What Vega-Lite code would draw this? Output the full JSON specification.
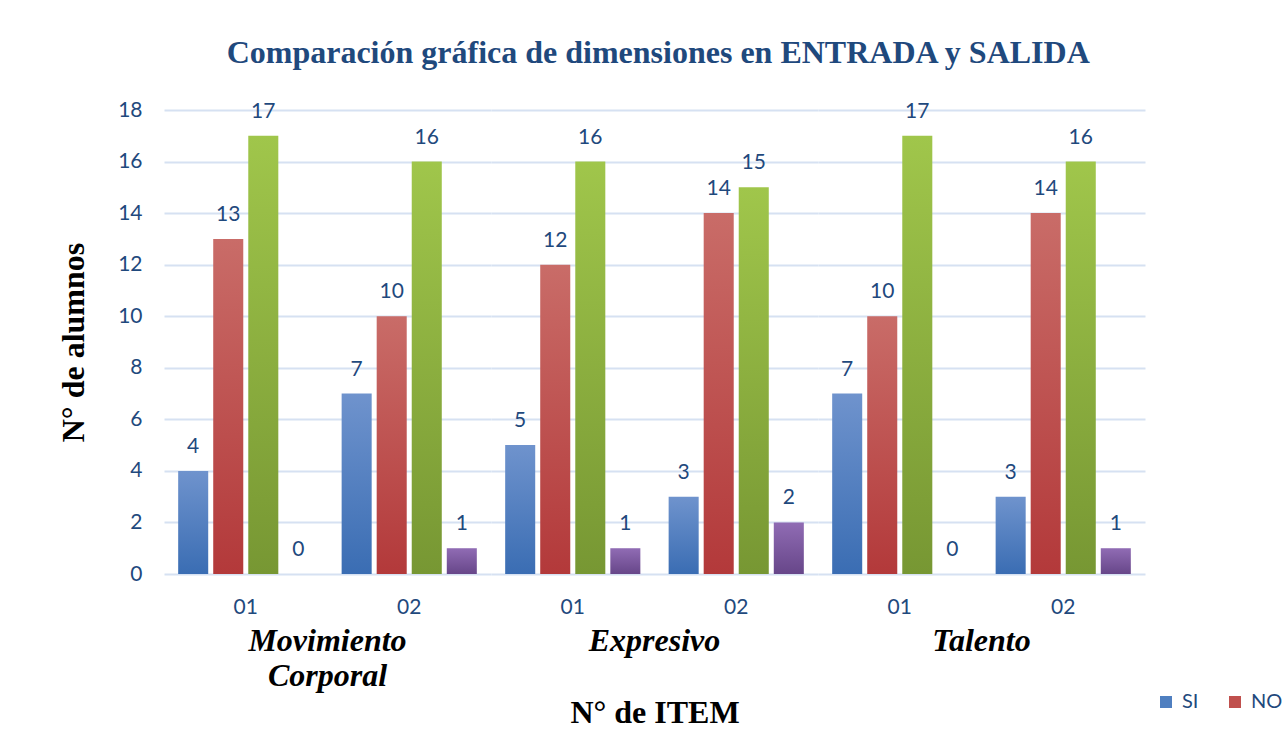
{
  "$schema": "https://vega.github.io/schema/vega-lite/v6.json",
  "padding": {"left": 57, "top": 37, "right": 5, "bottom": 5},
  "background": "white",
  "title": {"text": "Comparación gráfica de dimensiones en ENTRADA y SALIDA", "font": "Liberation Serif", "fontSize": 32, "fontWeight": "bold", "color": "#1F497D", "anchor": "start", "dx": 169, "offset": 29},
  "data": {"values": [
    {"dim": "Movimiento Corporal", "item": "01", "series": "SI", "value": 4},
    {"dim": "Movimiento Corporal", "item": "01", "series": "NO", "value": 13},
    {"dim": "Movimiento Corporal", "item": "01", "series": "SI salida", "value": 17},
    {"dim": "Movimiento Corporal", "item": "01", "series": "NO salida", "value": 0},
    {"dim": "Movimiento Corporal", "item": "02", "series": "SI", "value": 7},
    {"dim": "Movimiento Corporal", "item": "02", "series": "NO", "value": 10},
    {"dim": "Movimiento Corporal", "item": "02", "series": "SI salida", "value": 16},
    {"dim": "Movimiento Corporal", "item": "02", "series": "NO salida", "value": 1},
    {"dim": "Expresivo", "item": "01", "series": "SI", "value": 5},
    {"dim": "Expresivo", "item": "01", "series": "NO", "value": 12},
    {"dim": "Expresivo", "item": "01", "series": "SI salida", "value": 16},
    {"dim": "Expresivo", "item": "01", "series": "NO salida", "value": 1},
    {"dim": "Expresivo", "item": "02", "series": "SI", "value": 3},
    {"dim": "Expresivo", "item": "02", "series": "NO", "value": 14},
    {"dim": "Expresivo", "item": "02", "series": "SI salida", "value": 15},
    {"dim": "Expresivo", "item": "02", "series": "NO salida", "value": 2},
    {"dim": "Talento", "item": "01", "series": "SI", "value": 7},
    {"dim": "Talento", "item": "01", "series": "NO", "value": 10},
    {"dim": "Talento", "item": "01", "series": "SI salida", "value": 17},
    {"dim": "Talento", "item": "01", "series": "NO salida", "value": 0},
    {"dim": "Talento", "item": "02", "series": "SI", "value": 3},
    {"dim": "Talento", "item": "02", "series": "NO", "value": 14},
    {"dim": "Talento", "item": "02", "series": "SI salida", "value": 16},
    {"dim": "Talento", "item": "02", "series": "NO salida", "value": 1}
  ]},
  "facet": {
    "column": {
      "field": "dim", "type": "nominal",
      "sort": ["Movimiento Corporal", "Expresivo", "Talento"],
      "title": "N° de ITEM",
      "header": {
        "labelOrient": "bottom", "titleOrient": "bottom",
        "labelFont": "Liberation Serif", "labelFontSize": 32, "labelFontWeight": "bold", "labelFontStyle": "italic", "labelColor": "black",
        "labelExpr": "datum.value == 'Movimiento Corporal' ? ['Movimiento', 'Corporal'] : datum.value",
        "labelLineHeight": 35, "labelPadding": 9,
        "titleFont": "Liberation Serif", "titleFontSize": 32, "titleFontWeight": "bold", "titleColor": "black", "titlePadding": -4
      }
    }
  },
  "spacing": 0,
  "spec": {
    "width": 327,
    "height": 464,
    "encoding": {
      "x": {"field": "item", "type": "nominal", "scale": {"paddingInner": 0.173, "paddingOuter": 0.0867},
        "axis": {"title": null, "labelAngle": 0, "domain": false, "ticks": false, "labelFont": "Lato", "labelFontSize": 21, "labelColor": "#1F497D", "labelPadding": 22}},
      "xOffset": {"field": "series", "type": "nominal", "sort": ["SI", "NO", "SI salida", "NO salida"], "scale": {"domain": ["SI", "NO", "SI salida", "NO salida"], "paddingInner": 0.1429, "paddingOuter": 0}},
      "y": {"field": "value", "type": "quantitative", "scale": {"domain": [0, 18], "nice": false},
        "axis": {"values": [0, 2, 4, 6, 8, 10, 12, 14, 16, 18], "grid": true, "gridColor": "#D6E1F2", "gridWidth": 2, "domain": false, "ticks": false,
          "labelFont": "Lato", "labelFontSize": 21, "labelColor": "#1F497D", "labelPadding": 22,
          "title": "N° de alumnos", "titleFont": "Liberation Serif", "titleFontSize": 32, "titleFontWeight": "bold", "titleColor": "black", "titlePadding": 27}}
    },
    "layer": [
      {
        "transform": [{"filter": "datum.series == 'SI' || datum.series == 'NO'"}],
        "mark": {"type": "bar", "opacity": 0},
        "encoding": {
          "color": {"field": "series", "type": "nominal",
            "scale": {"domain": ["SI", "NO"], "range": ["#4F7FC0", "#C0504D"]},
            "legend": {"title": null, "orient": "none", "direction": "horizontal", "legendX": 992, "legendY": 582,
              "symbolType": "square", "symbolSize": 144, "symbolOpacity": 1, "labelOffset": 6, "labelFont": "Lato", "labelFontSize": 20, "labelColor": "#1F497D", "columnPadding": 26}}
        }
      },
      {
        "transform": [{"filter": "datum.series == 'SI'"}],
        "mark": {"type": "bar", "color": {"gradient": "linear", "x1": 0, "y1": 0, "x2": 0, "y2": 1, "stops": [{"offset": 0, "color": "#6F93CD"}, {"offset": 1, "color": "#3A6DB3"}]}}
      },
      {
        "transform": [{"filter": "datum.series == 'NO'"}],
        "mark": {"type": "bar", "color": {"gradient": "linear", "x1": 0, "y1": 0, "x2": 0, "y2": 1, "stops": [{"offset": 0, "color": "#C96C68"}, {"offset": 1, "color": "#B3393A"}]}}
      },
      {
        "transform": [{"filter": "datum.series == 'SI salida'"}],
        "mark": {"type": "bar", "color": {"gradient": "linear", "x1": 0, "y1": 0, "x2": 0, "y2": 1, "stops": [{"offset": 0, "color": "#A0C64B"}, {"offset": 1, "color": "#779733"}]}}
      },
      {
        "transform": [{"filter": "datum.series == 'NO salida'"}],
        "mark": {"type": "bar", "color": {"gradient": "linear", "x1": 0, "y1": 0, "x2": 0, "y2": 1, "stops": [{"offset": 0, "color": "#906CB4"}, {"offset": 1, "color": "#674689"}]}}
      },
      {
        "mark": {"type": "text", "baseline": "middle", "dy": -24, "font": "Lato", "fontSize": 21, "color": "#1F497D"},
        "encoding": {"text": {"field": "value", "type": "quantitative"}}
      }
    ]
  },
  "config": {"view": {"stroke": null}}
}
